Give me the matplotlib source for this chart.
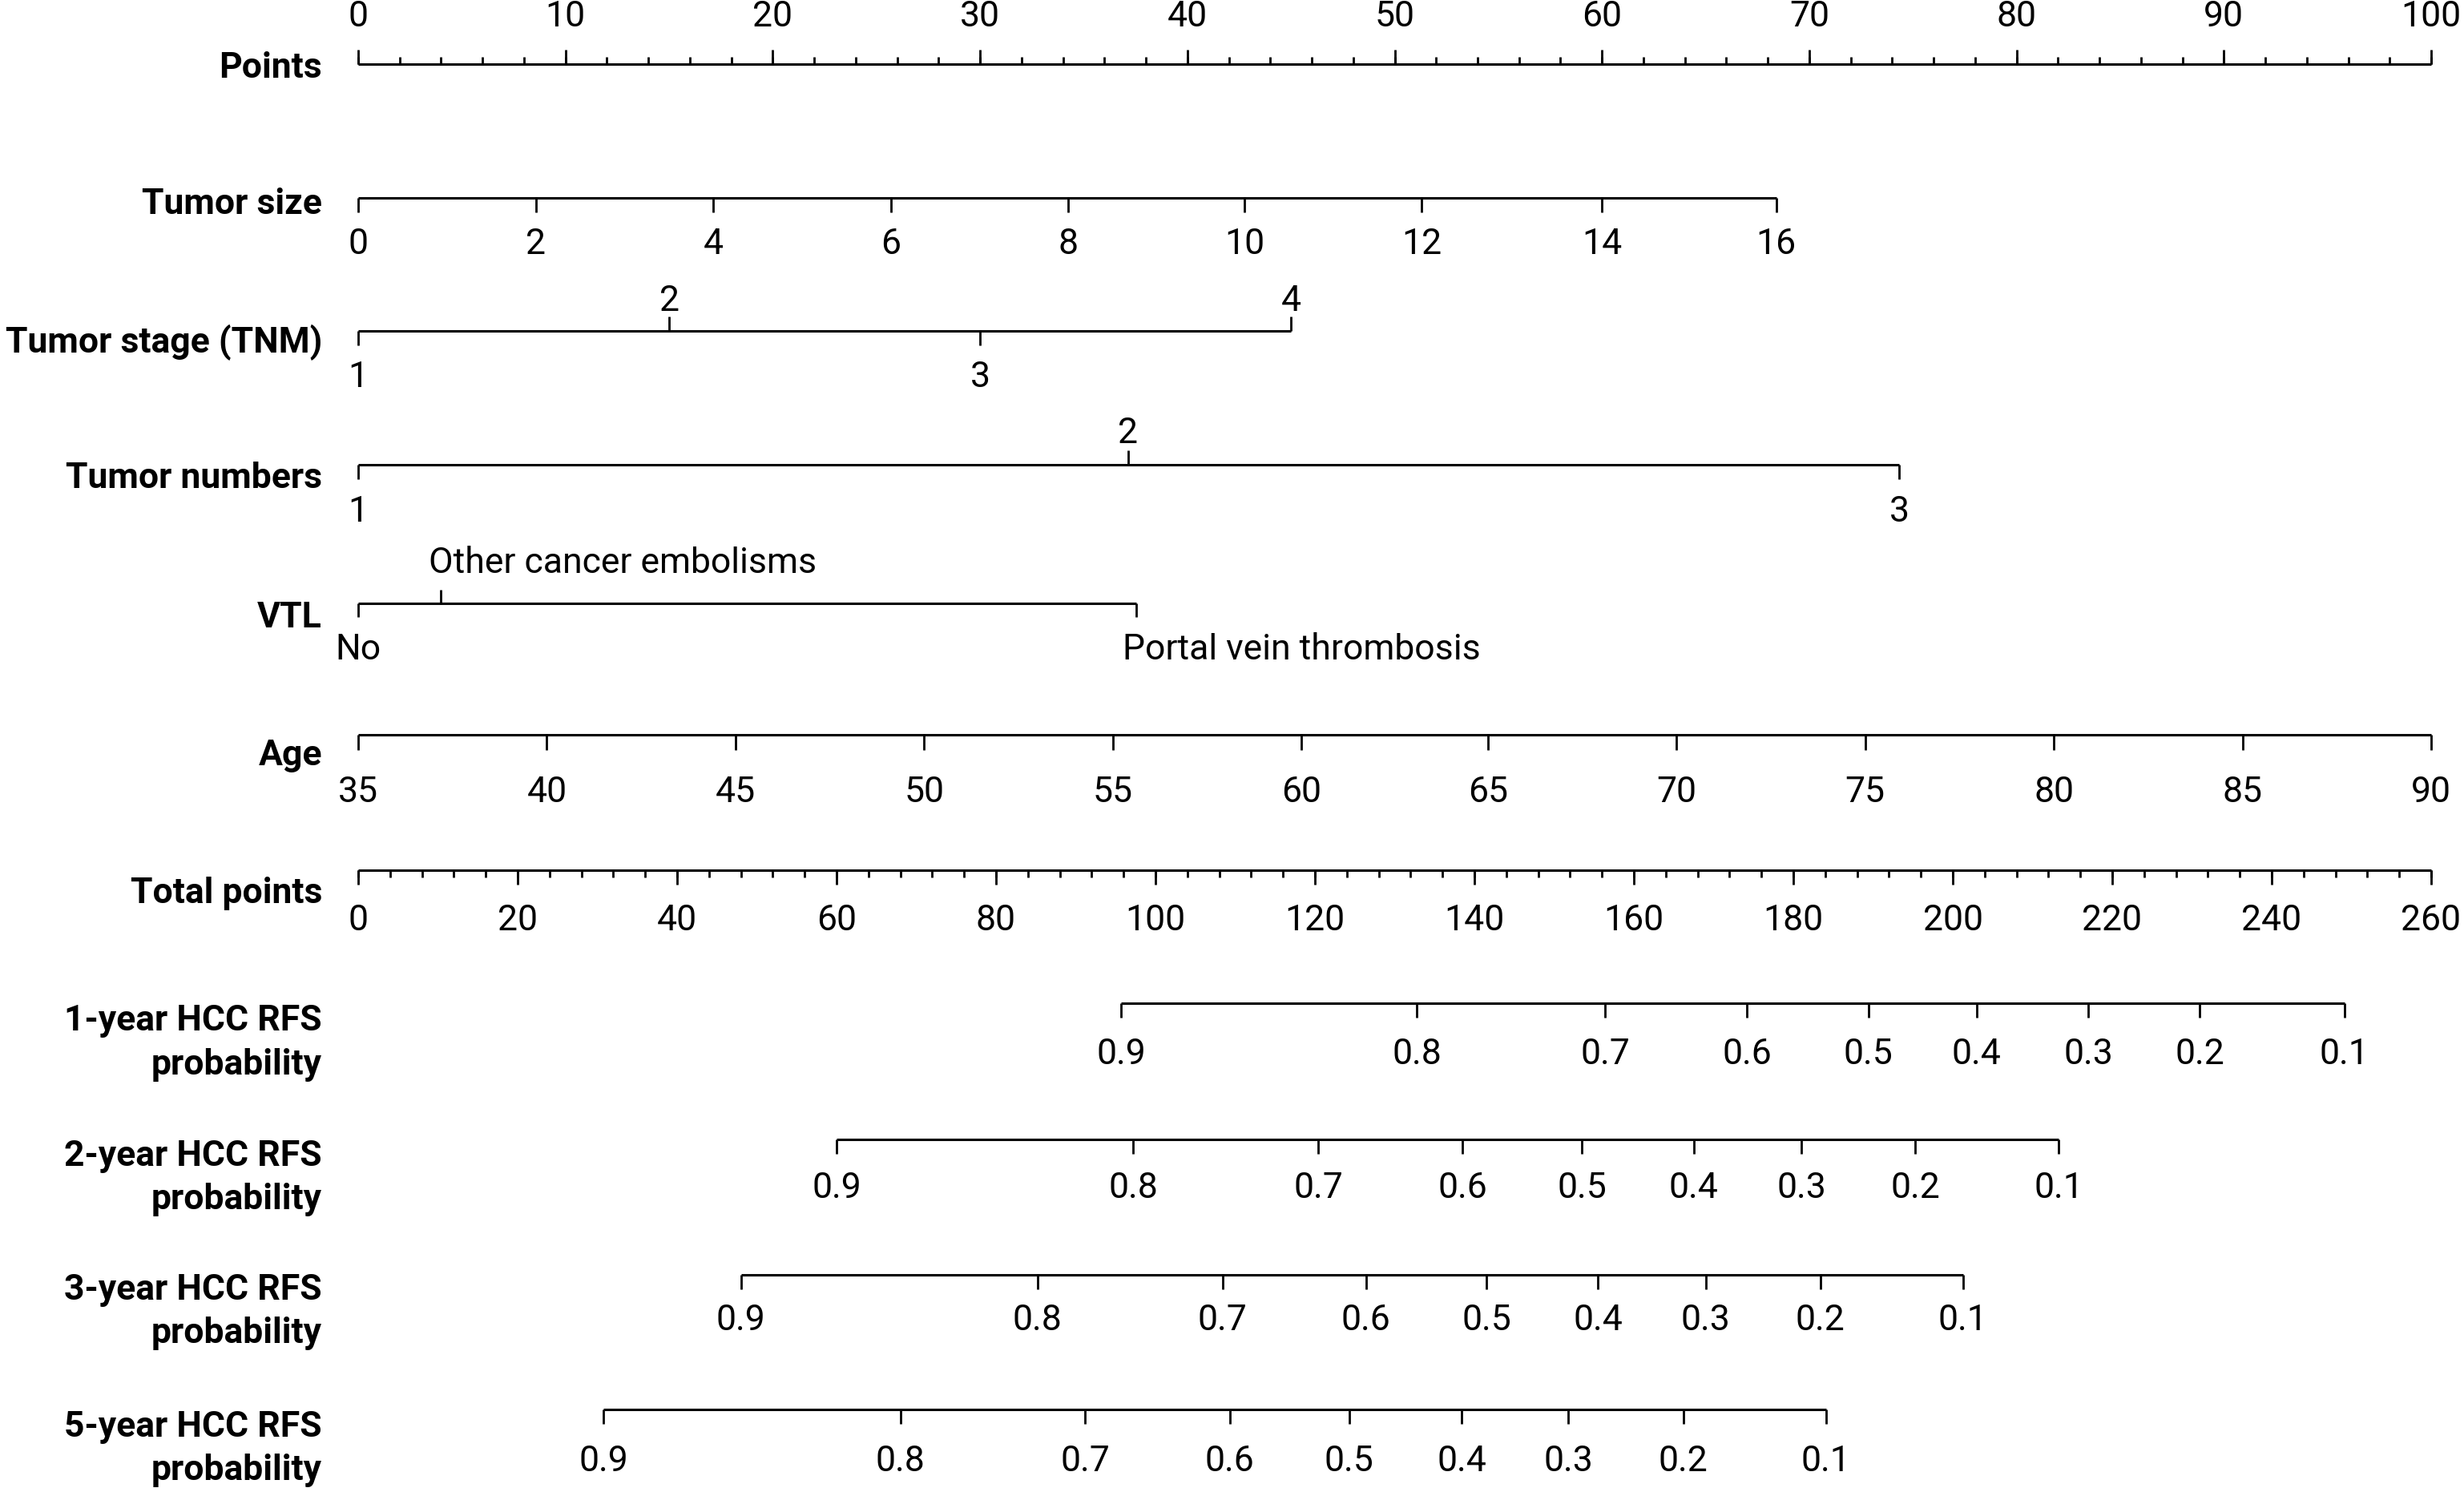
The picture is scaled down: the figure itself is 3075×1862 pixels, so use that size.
import matplotlib
matplotlib.use('Agg')
import matplotlib.pyplot as plt
import numpy as np

# ---------------- data ----------------
points_major = list(range(0, 101, 10))
points_minor = list(range(0, 101, 2))

tumor_size_labels = ['0', '2', '4', '6', '8', '10', '12', '14', '16']
tumor_size_points = [0, 8.58, 17.12, 25.71, 34.25, 42.75, 51.3, 60.0, 68.4]

tumor_stage_labels = ['1', '2', '3', '4']
tumor_stage_points = [0, 15.0, 30.0, 45.0]

tumor_number_labels = ['1', '2', '3']
tumor_number_points = [0, 37.14, 74.33]

vtl_labels = ['No', 'Other cancer embolisms', 'Portal vein thrombosis']
vtl_points = [0, 4.0, 37.55]

age_labels = ['35', '40', '45', '50', '55', '60', '65', '70', '75', '80', '85', '90']
age_points = [0, 9.1, 18.2, 27.3, 36.4, 45.5, 54.5, 63.6, 72.7, 81.8, 90.9, 100]

total_major = list(range(0, 261, 20))
total_minor = list(range(0, 261, 4))
total_max = 260

prob_labels = ['0.9', '0.8', '0.7', '0.6', '0.5', '0.4', '0.3', '0.2', '0.1']
rfs1_total = [95.7, 132.8, 156.4, 174.2, 189.4, 203.0, 217.0, 231.0, 249.1]
rfs2_total = [60.0, 97.2, 120.4, 138.5, 153.5, 167.5, 181.0, 195.3, 213.3]
rfs3_total = [48.0, 85.2, 108.4, 126.4, 141.5, 155.5, 169.0, 183.4, 201.3]
rfs5_total = [30.8, 68.0, 91.2, 109.3, 124.3, 138.4, 151.8, 166.2, 184.1]

# ---------------- layout ----------------
plt.rcParams['font.family'] = ['Roboto', 'DejaVu Sans']
W, H, DPI = 3075, 1862, 200
fig = plt.figure(figsize=(W / DPI, H / DPI), dpi=DPI)
ax = fig.add_axes([0, 0, 1, 1])
PX = 25.87           # pixels per point
X0 = 447             # pixel position of 0 points
ax.set_xlim(-X0 / PX, (W - X0) / PX)
ax.set_ylim(H, 0)
ax.axis('off')

FS = 16
LW = 1.1
TW = 1.0
TL = 18
LABEL_X = (402 - X0) / PX


def hline(y, x0, x1):
    ax.plot([x0, x1], [y, y], color='black', lw=LW, solid_capstyle='butt')


def vtick(x, y, length, up):
    ax.plot([x, x], [y, y - length if up else y + length], color='black', lw=TW,
            solid_capstyle='butt')


def lab(x, y, s, ha='center'):
    ax.text(x, y, s, ha=ha, va='baseline', fontsize=FS)


def rowlabel(y, s):
    ax.text(LABEL_X, y, s, ha='right', va='baseline', fontsize=FS, fontweight='bold')


# Points
y = 80
hline(y, 0, 100)
for v in points_minor:
    vtick(v, y, 9, True)
for v in points_major:
    vtick(v, y, TL, True)
    lab(v, 33, str(v))
rowlabel(97, 'Points')

# Tumor size
y = 247
hline(y, tumor_size_points[0], tumor_size_points[-1])
for p, s in zip(tumor_size_points, tumor_size_labels):
    vtick(p, y, TL, False)
    lab(p, 317, s)
rowlabel(267, 'Tumor size')

# Tumor stage
y = 413
hline(y, tumor_stage_points[0], tumor_stage_points[-1])
for i, (p, s) in enumerate(zip(tumor_stage_points, tumor_stage_labels)):
    up = (i % 2 == 1)
    vtick(p, y, TL, up)
    lab(p, 388 if up else 483, s)
rowlabel(440, 'Tumor stage (TNM)')

# Tumor numbers
y = 580
hline(y, tumor_number_points[0], tumor_number_points[-1])
for i, (p, s) in enumerate(zip(tumor_number_points, tumor_number_labels)):
    up = (i % 2 == 1)
    vtick(p, y, TL, up)
    lab(p, 553 if up else 651, s)
rowlabel(609, 'Tumor numbers')

# VTL
y = 753
hline(y, min(vtl_points), max(vtl_points))
vtl_up = [False, True, False]
vtl_ha = ['center', 'left', 'left']
vtl_dx = [0, -15 / PX, -17 / PX]
for p, s, up, ha, dx in zip(vtl_points, vtl_labels, vtl_up, vtl_ha, vtl_dx):
    vtick(p, y, 17, up)
    lab(p + dx, 715 if up else 823, s, ha=ha)
rowlabel(783, 'VTL')

# Age
y = 917
hline(y, age_points[0], age_points[-1])
for p, s in zip(age_points, age_labels):
    vtick(p, y, 19, False)
    lab(p, 1001, s)
rowlabel(955, 'Age')

# Total points
y = 1086
scale = 100 / total_max
hline(y, 0, total_max * scale)
for v in total_minor:
    vtick(v * scale, y, 9, False)
for v in total_major:
    vtick(v * scale, y, TL, False)
    lab(v * scale, 1161, str(v))
rowlabel(1127, 'Total points')

# Probability rows
prob_rows = [
    (1252, rfs1_total, 1328, (1286, 1341), '1-year HCC RFS'),
    (1422, rfs2_total, 1495, (1455, 1509), '2-year HCC RFS'),
    (1591, rfs3_total, 1660, (1622, 1676), '3-year HCC RFS'),
    (1759, rfs5_total, 1836, (1793, 1847), '5-year HCC RFS'),
]
for y, tot, ylab, (b1, b2), name in prob_rows:
    xs = [t * scale for t in tot]
    hline(y, xs[0], xs[-1])
    for x, s in zip(xs, prob_labels):
        vtick(x, y, TL, False)
        lab(x, ylab, s)
    rowlabel(b1, name)
    rowlabel(b2, 'probability')

fig.savefig('out.png', dpi=DPI, facecolor='white')
